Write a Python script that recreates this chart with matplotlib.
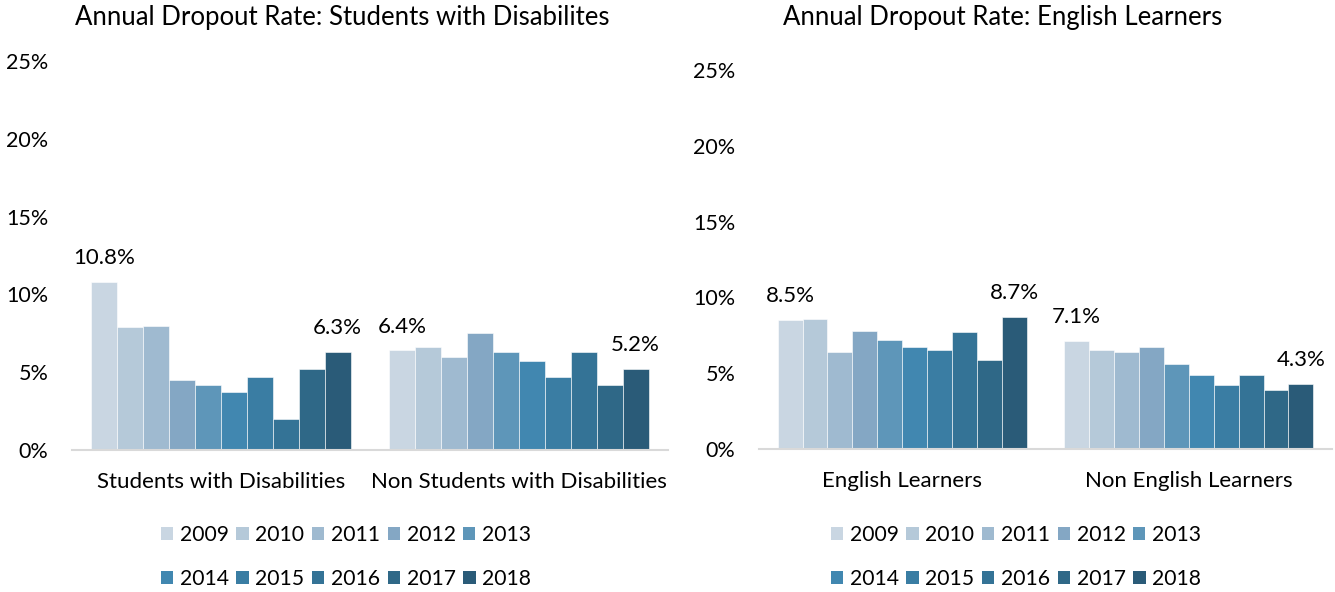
import matplotlib.pyplot as plt
import numpy as np
from matplotlib.patches import Patch

# ==========================================================
# DATA
# ==========================================================

YEARS = ["2009", "2010", "2011", "2012", "2013", "2014", "2015", "2016", "2017", "2018"]

SWD_CATS = ["Students with Disabilities", "Non Students with Disabilities"]
SWD_VALUES = [
    [10.8, 7.9, 8.0, 4.5, 4.2, 3.7, 4.7, 2.0, 5.2, 6.3],
    [6.4, 6.6, 6.0, 7.5, 6.3, 5.7, 4.7, 6.3, 4.2, 5.2],
]

EL_CATS = ["English Learners", "Non English Learners"]
EL_VALUES = [
    [8.5, 8.6, 6.4, 7.8, 7.2, 6.7, 6.5, 7.7, 5.9, 8.7],
    [7.1, 6.5, 6.4, 6.7, 5.6, 4.9, 4.2, 4.9, 3.9, 4.3],
]

YTICKS = [0, 5, 10, 15, 20, 25]

COLORS = [
    "#C9D6E2", "#B5C9D9", "#9FBAD0", "#84A7C4", "#5E96B9",
    "#4187B0", "#3A7DA3", "#347396", "#2F6887", "#2A5B78",
]

FONT = "Lato"
plt.rcParams["font.family"] = [FONT, "DejaVu Sans"]

W, H = 1335, 592
fig = plt.figure(figsize=(W / 100, H / 100), dpi=100, facecolor="white")


def draw_panel(rect, cats, values, title, title_x, legend_cx):
    ax = fig.add_axes(rect)
    n = len(YEARS)
    group_w = 0.87
    bw = group_w / n
    x = np.arange(len(cats))
    for j in range(n):
        vals = [values[c][j] for c in range(len(cats))]
        ax.bar(x + (j - (n - 1) / 2) * bw, vals, width=bw, color=COLORS[j],
               edgecolor="white", linewidth=0.4, label=YEARS[j])
    # etiquetas en la primera y ultima barra de cada grupo
    for c in range(len(cats)):
        for j in (0, n - 1):
            v = values[c][j]
            ax.annotate(f"{v:.1f}%", (x[c] + (j - (n - 1) / 2) * bw, v),
                        xytext=(0, 10), textcoords="offset points",
                        ha="center", va="bottom", fontsize=16, color="#000000")
    ax.set_xlim(-0.5, len(cats) - 0.5)
    ax.set_ylim(0, 25)
    ax.set_yticks(YTICKS)
    ax.set_yticklabels([f"{t}%" for t in YTICKS])
    ax.set_xticks(x)
    ax.set_xticklabels(cats)
    ax.tick_params(axis="y", length=0, pad=17, labelsize=15.5)
    ax.tick_params(axis="x", length=0, pad=16, labelsize=16)
    for s in ["top", "right", "left"]:
        ax.spines[s].set_visible(False)
    ax.spines["bottom"].set_color("#D9D9D9")
    ax.spines["bottom"].set_linewidth(1.5)

    fig.text(title_x / W, 1 - 18 / H, title, fontsize=18.5, ha="left", va="center")

    handles = [Patch(facecolor=COLORS[j], label=YEARS[j]) for j in range(n)]
    for row, yy in ((0, 535), (1, 579)):
        fig.legend(handles=handles[row * 5:(row + 1) * 5], loc="center",
                   bbox_to_anchor=(legend_cx / W, 1 - yy / H), ncol=5,
                   frameon=False, fontsize=15.2, handlelength=0.58,
                   handleheight=0.58, handletextpad=0.32, columnspacing=0.36,
                   borderpad=0, borderaxespad=0)
    return ax


draw_panel([72 / W, 1 - 450 / H, 596 / W, 389 / H], SWD_CATS, SWD_VALUES,
           "Annual Dropout Rate: Students with Disabilites", 75, 346)
draw_panel([759 / W, 1 - 449 / H, 573 / W, 379 / H], EL_CATS, EL_VALUES,
           "Annual Dropout Rate: English Learners", 783, 1016)

fig.savefig("out.png", dpi=100, facecolor="white")
